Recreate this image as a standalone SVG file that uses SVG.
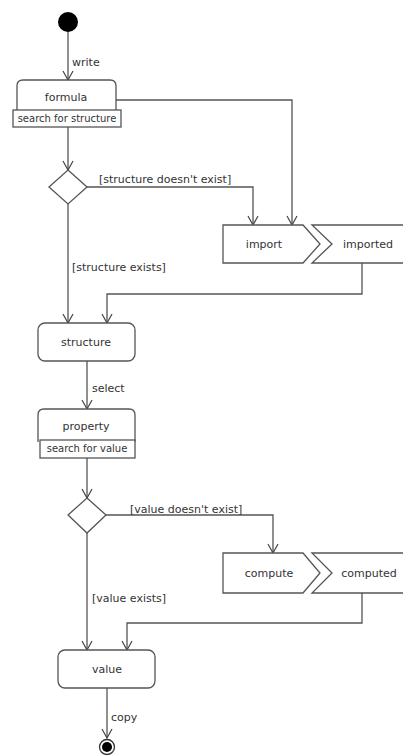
<svg xmlns="http://www.w3.org/2000/svg" width="403" height="755" viewBox="0 0 403 755">
<defs>
<marker id="arr" markerWidth="12" markerHeight="12" refX="10" refY="6" orient="auto" markerUnits="userSpaceOnUse">
<path d="M1,1 L10,6 L1,11" fill="none" stroke="#444" stroke-width="1.2"/>
</marker>
<style>
.ln{fill:none;stroke:#555;stroke-width:1.3}
.bx{fill:#fff;stroke:#555;stroke-width:1.3}
.t{font-family:"DejaVu Sans",Verdana,sans-serif;font-size:11px;fill:#333}
.c{text-anchor:middle}
.s{font-size:10px}
</style>
</defs>
<rect width="403" height="755" fill="#fff"/>
<g id="connectors">
<path class="ln" d="M68,23 V80" marker-end="url(#arr)"/>
<path class="ln" d="M116,100 H292 V225" marker-end="url(#arr)"/>
<path class="ln" d="M68,127 V170" marker-end="url(#arr)"/>
<path class="ln" d="M87,187 H253 V225" marker-end="url(#arr)"/>
<path class="ln" d="M68,204 V323" marker-end="url(#arr)"/>
<path class="ln" d="M362,263 V294 H107 V323" marker-end="url(#arr)"/>
<path class="ln" d="M87,361 V409" marker-end="url(#arr)"/>
<path class="ln" d="M87,458 V498" marker-end="url(#arr)"/>
<path class="ln" d="M106,515 H273 V553" marker-end="url(#arr)"/>
<path class="ln" d="M87,533 V650" marker-end="url(#arr)"/>
<path class="ln" d="M362,593 V623 H127 V650" marker-end="url(#arr)"/>
<path class="ln" d="M107,688 V738" marker-end="url(#arr)"/>
<text class="t" x="72" y="66">write</text>
<text class="t" x="99" y="183">[structure doesn't exist]</text>
<text class="t" x="72" y="271">[structure exists]</text>
<text class="t" x="92" y="392">select</text>
<text class="t" x="130" y="513">[value doesn't exist]</text>
<text class="t" x="92" y="602">[value exists]</text>
<text class="t" x="111" y="721">copy</text>
</g>
<g id="start"><circle cx="68" cy="22" r="10" fill="#000"/></g>
<g id="formula">
<path class="bx" d="M17,112 V86 Q17,80 23,80 H110 Q116,80 116,86 V112"/>
<text class="t c" x="66" y="101">formula</text>
<rect class="bx" x="13" y="110" width="108" height="17"/>
<text class="t c s" x="67" y="122">search for structure</text>
</g>
<g id="decision1"><path class="bx" d="M68,170 L87,187 L68,204 L49,187 Z"/></g>
<g id="import">
<path class="bx" d="M223,225 H303 L320,244 L303,263 H223 Z"/>
<text class="t c" x="264" y="248">import</text>
</g>
<g id="imported">
<path class="bx" d="M312,225 H410 V263 H312 L332,244 Z"/>
<text class="t c" x="368" y="248">imported</text>
</g>
<g id="structure">
<rect class="bx" x="38" y="323" width="97" height="38" rx="7"/>
<text class="t c" x="86" y="346">structure</text>
</g>
<g id="property">
<path class="bx" d="M38,442 V415 Q38,409 44,409 H129 Q135,409 135,415 V442"/>
<text class="t c" x="86" y="430">property</text>
<rect class="bx" x="40" y="440" width="95" height="18"/>
<text class="t c s" x="87" y="452">search for value</text>
</g>
<g id="decision2"><path class="bx" d="M87,498 L106,515 L87,533 L68,515 Z"/></g>
<g id="compute">
<path class="bx" d="M223,553 H303 L320,573 L303,593 H223 Z"/>
<text class="t c" x="269" y="577">compute</text>
</g>
<g id="computed">
<path class="bx" d="M312,553 H410 V593 H312 L332,573 Z"/>
<text class="t c" x="369" y="577">computed</text>
</g>
<g id="value">
<rect class="bx" x="58" y="650" width="97" height="38" rx="7"/>
<text class="t c" x="107" y="673">value</text>
</g>
<g id="end">
<circle cx="107" cy="747" r="7.5" fill="#fff" stroke="#333" stroke-width="1.3"/>
<circle cx="107" cy="747" r="5" fill="#000"/>
</g>
</svg>
